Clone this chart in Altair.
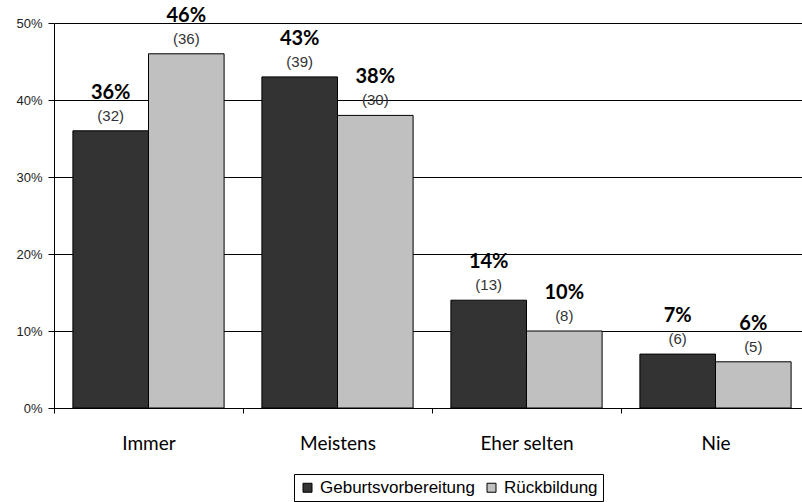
import altair as alt
import pandas as pd

categories = ["Immer", "Meistens", "Eher selten", "Nie"]
series = ["Geburtsvorbereitung", "Rückbildung"]
geburt_pct = [36, 43, 14, 7]
geburt_n = [32, 39, 13, 6]
rueck_pct = [46, 38, 10, 6]
rueck_n = [36, 30, 8, 5]

rows = []
for i, cat in enumerate(categories):
    rows.append({"cat": cat, "series": series[0], "share": geburt_pct[i] / 100,
                 "pct": f"{geburt_pct[i]}%", "n": f"({geburt_n[i]})"})
    rows.append({"cat": cat, "series": series[1], "share": rueck_pct[i] / 100,
                 "pct": f"{rueck_pct[i]}%", "n": f"({rueck_n[i]})"})
df = pd.DataFrame(rows)

x = alt.X("cat:N", sort=categories, title=None,
          scale=alt.Scale(range=[0, 756], paddingInner=0, paddingOuter=0),
          axis=alt.Axis(labelAngle=0, tickBand="extent", tickSize=5,
                        tickColor="black", domainColor="black",
                        labelFont="Lato", labelFontSize=19, labelColor="black",
                        labelPadding=21))
xo = alt.XOffset("series:N", sort=series,
                 scale=alt.Scale(paddingInner=0, paddingOuter=0.25))
y = alt.Y("share:Q", title=None,
          scale=alt.Scale(domain=[0, 0.5]),
          axis=alt.Axis(values=[0, 0.1, 0.2, 0.3, 0.4, 0.5], format=".0%",
                        grid=True, gridColor="black", gridOpacity=1,
                        domainColor="black", tickColor="black", tickSize=6,
                        labelFont="Liberation Sans", labelFontSize=13,
                        labelColor="#222", labelPadding=6))
color = alt.Color("series:N", sort=series, title=None,
                  scale=alt.Scale(domain=series, range=["#333333", "#c0c0c0"]),
                  legend=alt.Legend(orient="none", legendX=240, legendY=451,
                                    direction="horizontal",
                                    strokeColor="black", fillColor="white",
                                    padding=5, cornerRadius=0,
                                    symbolType="square", symbolSize=81,
                                    symbolStrokeColor="black", symbolStrokeWidth=1,
                                    symbolOpacity=1,
                                    labelFont="Liberation Sans", labelFontSize=17,
                                    labelColor="black", columnPadding=8,
                                    labelOffset=4))

bars = alt.Chart(df).mark_bar(stroke="black", strokeWidth=1, opacity=1).encode(
    x=x, xOffset=xo, y=y, color=color)

pct_text = alt.Chart(df).mark_text(
    font="Lato", fontWeight="bold", fontSize=20, baseline="alphabetic",
    dy=-32, color="black").encode(x=x, xOffset=xo, y=y, text="pct:N")

n_text = alt.Chart(df).mark_text(
    font="Liberation Sans", fontSize=15, baseline="alphabetic",
    dy=-10, color="#333").encode(x=x, xOffset=xo, y=y, text="n:N")

chart = alt.layer(bars, pct_text, n_text).properties(
    width=748, height=385,
    autosize=alt.AutoSizeParams(type="none"),
    padding={"left": 54, "top": 23, "right": 0, "bottom": 94},
).configure_view(stroke=None)

chart.save("out.html", embed_options={"renderer": "svg", "actions": False})
